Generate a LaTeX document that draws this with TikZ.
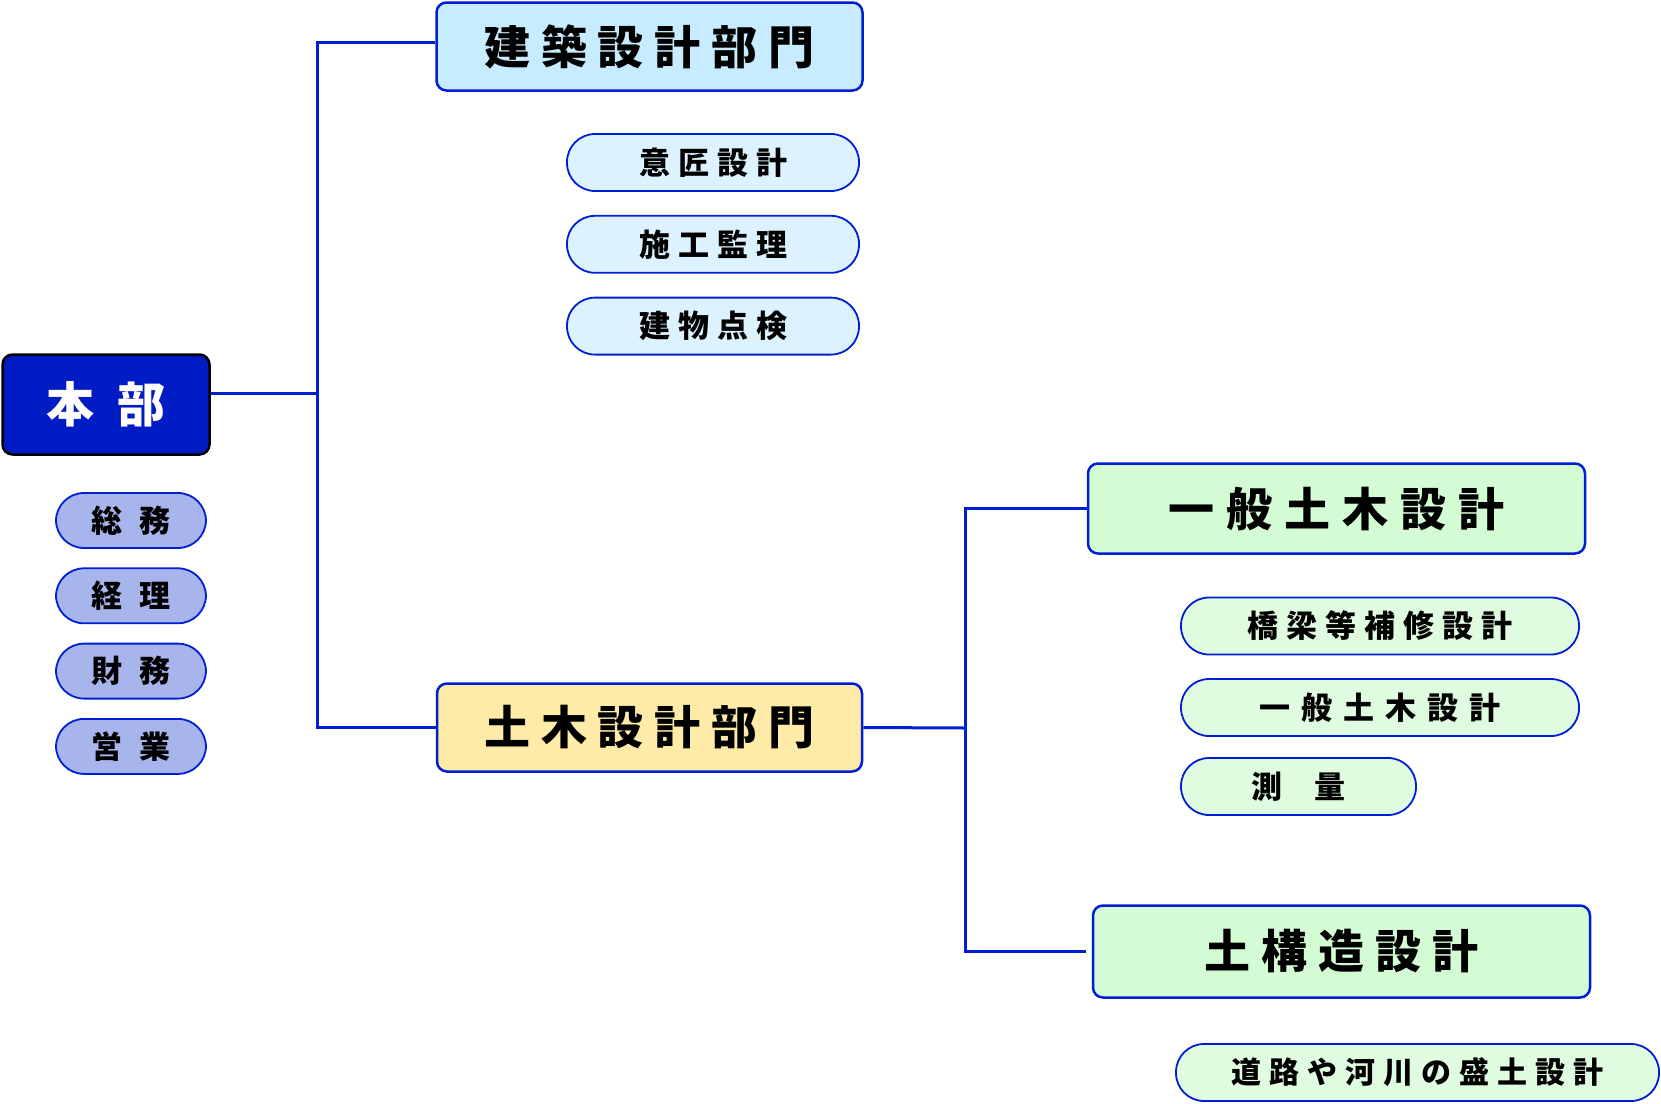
\documentclass[tikz,border=0pt]{standalone}
\usepackage{fontspec}
\setmainfont{Noto Sans CJK JP}
\usepackage{tikz}
\usepackage{xcolor}

\definecolor{linec}{RGB}{0,30,210}
\definecolor{hqfill}{RGB}{0,28,196}
\definecolor{hqsub}{RGB}{168,180,236}
\definecolor{archfill}{RGB}{200,236,255}
\definecolor{archsub}{RGB}{220,243,255}
\definecolor{civfill}{RGB}{255,235,168}
\definecolor{grnfill}{RGB}{212,252,212}
\definecolor{grnsub}{RGB}{224,252,224}

\makeatletter
\def\sp@do{\@tfor\sp@ch:=}
\newcommand\spaced[2]{%
  \def\sp@sep{}%
  \edef\sp@list{#2}%
  \expandafter\sp@do\sp@list\do{\sp@sep\sp@ch\def\sp@sep{\hspace{#1}}}}
\makeatother

\tikzset{
  bigbox/.style={draw=linec, line width=2.5pt, rounded corners=10pt,
    inner sep=0pt, font=\fontsize{46}{50}\selectfont\bfseries},
  pill/.style={draw=linec, line width=1.8pt, rounded corners=28pt,
    inner sep=0pt, minimum height=57pt, font=\fontsize{31}{34}\selectfont\bfseries},
  conn/.style={draw=linec, line width=3pt},
}

\begin{document}
\begin{tikzpicture}[x=1pt,y=-1pt]
  \useasboundingbox (0,0) rectangle (1661,1103);

  % head office
  \node[bigbox, draw=black, fill=hqfill, text=white, minimum width=207pt, minimum height=100pt,
    font=\fontsize{48}{52}\selectfont\bfseries] (honbu) at (106,404.5) {\spaced{23pt}{本部}};
  \foreach \txt [count=\i] in {総務,経理,財務,営業}{
    \node[pill, fill=hqsub, minimum width=150pt, minimum height=55pt] (hq\i)
      at (131,{520.5+(\i-1)*75.3}) {\spaced{17pt}{\txt}};
  }

  % architecture
  \node[bigbox, fill=archfill, minimum width=426pt, minimum height=88pt] (kenchiku) at (649.5,46.5)
    {\spaced{11pt}{建築設計部門}};
  \foreach \txt [count=\i] in {意匠設計,施工監理,建物点検}{
    \node[pill, fill=archsub, minimum width=292pt] (ken\i) at (713,{162.5+(\i-1)*81.8}) {\spaced{8pt}{\txt}};
  }

  % civil engineering
  \node[bigbox, fill=civfill, minimum width=425pt, minimum height=88pt] (doboku) at (649.5,727.5)
    {\spaced{11pt}{土木設計部門}};
  \node[bigbox, fill=grnfill, minimum width=497pt, minimum height=90pt] (ippan) at (1336.5,508.5)
    {\spaced{12pt}{一般土木設計}};
  \node[pill, fill=grnsub, minimum width=398pt] (ipp1) at (1380,626) {\spaced{8pt}{橋梁等補修設計}};
  \node[pill, fill=grnsub, minimum width=398pt] (ipp2) at (1380,707.5) {\spaced{11pt}{一般土木設計}};
  \node[pill, fill=grnsub, minimum width=235pt] (ipp3) at (1298.5,786.5) {\spaced{32pt}{測量}};
  \node[bigbox, fill=grnfill, minimum width=497pt, minimum height=92pt] (dokozo) at (1341.5,951.5)
    {\spaced{11pt}{土構造設計}};
  \node[pill, fill=grnsub, minimum width=483pt, font=\fontsize{30}{33}\selectfont\bfseries] (dkz1)
    at (1417.5,1072.5) {\spaced{8pt}{道路や河川の盛土設計}};

  % connectors
  \coordinate (j1) at (317,393);
  \coordinate (j2) at (965,728);
  \draw[conn] ([yshift=11.5pt]honbu.east) -- (j1);
  \draw[conn] ([yshift=4.5pt]kenchiku.west) -| (j1) |- (doboku.west);
  \draw[conn] (doboku.east) -- (j2);
  \draw[conn] (ippan.west) -| (j2) |- ([xshift=-6pt]dokozo.west);
\end{tikzpicture}
\end{document}
